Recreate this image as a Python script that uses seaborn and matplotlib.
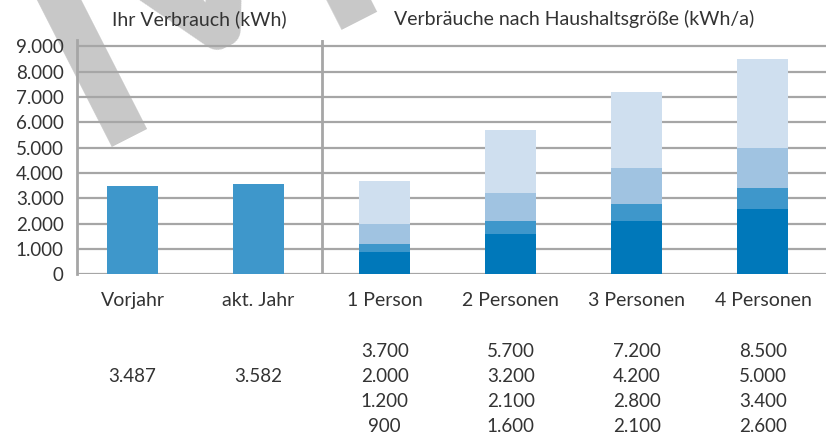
import pandas as pd
import matplotlib.pyplot as plt
import seaborn as sns

# categories
own_cats = ["Vorjahr", "akt. Jahr"]
house_cats = ["1 Person", "2 Personen", "3 Personen", "4 Personen"]
all_cats = own_cats + house_cats

# own consumption (kWh)
own_values = [3487, 3582]

# household consumption levels (kWh/a), top of each band
level_top = [3700, 5700, 7200, 8500]
level_high = [2000, 3200, 4200, 5000]
level_mid = [1200, 2100, 2800, 3400]
level_low = [900, 1600, 2100, 2600]

layer_colors = ["#cfdfef", "#a0c3e1", "#3e97cb", "#0078ba"]
own_color = "#3e97cb"
grid_color = "#a6a6a6"
text_color = "#333333"


def fmt(v):
    return f"{v:,}".replace(",", ".")


def plot_consumption():
    sns.set_style("white")
    plt.rcParams["font.family"] = ["Lato", "DejaVu Sans"]

    fig = plt.figure(figsize=(8.26, 4.37), dpi=100)
    ax = fig.add_axes([0.0932, 0.372, 0.9068, 0.537])
    ax.patch.set_alpha(0)

    # watermark (first letter of a rotated "MUSTER" stamp)
    fig.text(0.292, 0.853, "M", fontsize=280, fontweight="semibold",
             color="#c8c8c8", rotation=27, rotation_mode="anchor",
             ha="center", va="baseline", zorder=-5)

    own_df = pd.DataFrame({"cat": own_cats, "value": own_values})
    sns.barplot(data=own_df, x="cat", y="value", order=all_cats, color=own_color,
                saturation=1, width=0.405, linewidth=0, ax=ax, zorder=3)

    layers = [level_top, level_high, level_mid, level_low]
    for vals, col in zip(layers, layer_colors):
        df = pd.DataFrame({"cat": house_cats, "value": vals})
        sns.barplot(data=df, x="cat", y="value", order=all_cats, color=col,
                    saturation=1, width=0.405, linewidth=0, ax=ax, zorder=3)

    ax.set_xlim(-0.44, 5.5)
    ax.set_ylim(0, 9265)
    ax.set_yticks(range(0, 9001, 1000))
    ax.set_yticklabels([fmt(v) for v in range(0, 9001, 1000)])
    for y in range(0, 9001, 1000):
        ax.axhline(y, color=grid_color, lw=1.6, zorder=1)
    ax.axvline(1.5, color=grid_color, lw=2, zorder=1)

    for side in ["top", "right", "bottom"]:
        ax.spines[side].set_visible(False)
    ax.spines["left"].set_color(grid_color)
    ax.spines["left"].set_linewidth(2)
    ax.tick_params(axis="y", length=6.5, width=1.5, color=grid_color, pad=3,
                   labelsize=13.5, labelcolor=text_color)
    ax.tick_params(axis="x", length=0, pad=13, labelsize=14, labelcolor=text_color)
    ax.set_xlabel("")
    ax.set_ylabel("")

    # section titles
    ax.text(0.53, 1.05, "Ihr Verbrauch (kWh)", transform=ax.get_xaxis_transform(),
            ha="center", va="bottom", fontsize=14, color=text_color)
    ax.text(3.5, 1.05, "Verbräuche nach Haushaltsgröße (kWh/a)",
            transform=ax.get_xaxis_transform(), ha="center", va="bottom",
            fontsize=14, color=text_color)

    # value table below the chart
    row_px = [77.5, 102.5, 127.5, 152.5]
    for i, v in enumerate(own_values):
        ax.annotate(fmt(v), xy=(i, 0), xycoords="data",
                    xytext=(0, -row_px[1] * 0.72), textcoords="offset points",
                    ha="center", va="center", fontsize=13.5, color=text_color,
                    annotation_clip=False)
    for j in range(len(house_cats)):
        for r, vals in enumerate(layers):
            ax.annotate(fmt(vals[j]), xy=(j + 2, 0), xycoords="data",
                        xytext=(0, -row_px[r] * 0.72), textcoords="offset points",
                        ha="center", va="center", fontsize=13.5, color=text_color,
                        annotation_clip=False)

    fig.savefig("out.png", dpi=100)


if __name__ == "__main__":
    plot_consumption()
